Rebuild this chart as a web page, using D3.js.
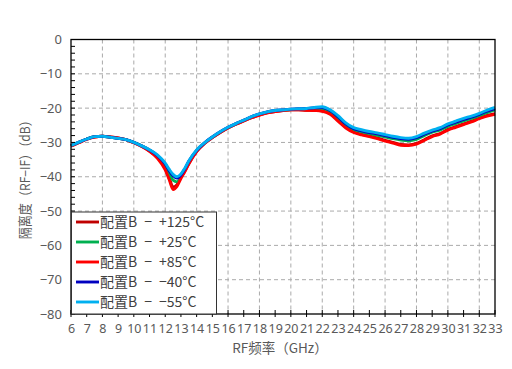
<!DOCTYPE html>
<html>
<head>
<meta charset="utf-8">
<script src="https://cdn.jsdelivr.net/npm/d3@7"></script>
<style>
  body { margin: 0; background: #fff; }
  svg text { font-family: "Noto Sans CJK SC", "Noto Sans", sans-serif; }
  svg .tick text { font-family: "Noto Sans", sans-serif; }
</style>
</head>
<body>
<div id="chart-area"></div>
<script>

// frequency points (GHz)
var freqs = [6, 6.5, 7, 7.5, 8, 8.5, 9, 9.5, 10, 10.5, 11, 11.5, 12, 12.25, 12.5, 12.75, 13, 13.25, 13.5, 14, 14.5, 15, 15.5, 16, 16.5, 17, 17.5, 18, 18.5, 19, 19.5, 20, 20.5, 21, 21.5, 22, 22.5, 23, 23.5, 24, 24.5, 25, 25.5, 26, 26.5, 27, 27.5, 28, 28.5, 29, 29.5, 30, 30.5, 31, 31.5, 32, 32.5, 33];

var iso125 = [-31.0, -30.0, -29.0, -28.4, -28.2, -28.4, -28.7, -29.2, -30.1, -31.1, -32.5, -34.4, -37.6, -40.3, -43.0, -42.3, -40.2, -38.3, -36.2, -32.6, -30.3, -28.6, -27.1, -25.8, -24.7, -23.7, -22.8, -22.0, -21.4, -21.0, -20.7, -20.5, -20.5, -20.6, -20.6, -20.8, -21.6, -23.5, -25.5, -26.9, -27.6, -28.1, -28.7, -29.4, -30.0, -30.6, -30.7, -30.3, -29.2, -28.1, -27.4, -26.2, -25.4, -24.6, -23.8, -22.9, -22.1, -21.6];
var iso25 = [-31.0, -30.0, -29.0, -28.3, -28.2, -28.5, -28.8, -29.2, -30.0, -31.0, -32.3, -34.0, -36.8, -38.9, -41.0, -41.5, -40.0, -38.0, -35.8, -32.4, -30.2, -28.5, -27.0, -25.7, -24.6, -23.6, -22.6, -21.8, -21.2, -20.8, -20.6, -20.4, -20.3, -20.3, -20.1, -20.1, -20.9, -22.8, -24.8, -26.2, -26.9, -27.4, -27.9, -28.4, -28.9, -29.3, -29.5, -29.1, -28.0, -27.0, -26.4, -25.3, -24.5, -23.7, -23.0, -22.2, -21.3, -20.5];
var iso85 = [-31.1, -30.1, -29.1, -28.4, -28.2, -28.4, -28.7, -29.2, -30.1, -31.2, -32.6, -34.6, -38.0, -40.8, -43.7, -42.8, -40.5, -38.5, -36.3, -32.7, -30.3, -28.6, -27.1, -25.8, -24.7, -23.7, -22.8, -22.1, -21.4, -21.0, -20.7, -20.5, -20.5, -20.6, -20.7, -20.9, -21.8, -23.8, -25.8, -27.1, -27.8, -28.3, -28.9, -29.6, -30.2, -30.8, -30.9, -30.5, -29.4, -28.3, -27.6, -26.4, -25.6, -24.8, -24.0, -23.1, -22.3, -21.8];
var isoM40 = [-30.9, -29.9, -29.0, -28.3, -28.2, -28.5, -28.8, -29.2, -30.0, -31.0, -32.2, -33.8, -36.3, -38.2, -39.7, -40.4, -39.5, -37.7, -35.5, -32.3, -30.1, -28.4, -26.9, -25.6, -24.5, -23.5, -22.5, -21.7, -21.1, -20.7, -20.5, -20.3, -20.2, -20.1, -19.9, -19.8, -20.7, -22.5, -24.6, -26.0, -26.6, -27.1, -27.5, -28.0, -28.5, -28.9, -29.1, -28.6, -27.6, -26.7, -26.0, -24.9, -24.1, -23.3, -22.6, -21.8, -20.9, -20.1];
var isoM55 = [-30.9, -29.9, -29.0, -28.3, -28.2, -28.5, -28.8, -29.2, -30.0, -31.0, -32.1, -33.6, -36.0, -37.8, -39.3, -40.0, -39.2, -37.5, -35.4, -32.2, -30.1, -28.4, -26.9, -25.6, -24.5, -23.5, -22.5, -21.7, -21.1, -20.7, -20.5, -20.3, -20.2, -20.1, -19.8, -19.6, -20.5, -22.2, -24.3, -25.7, -26.3, -26.8, -27.2, -27.7, -28.2, -28.6, -28.8, -28.3, -27.3, -26.4, -25.7, -24.6, -23.8, -23.0, -22.3, -21.5, -20.6, -19.8];

var seriesNames = ["配置B\u2002−\u2002+125°C", "配置B\u2002−\u2002+25°C", "配置B\u2002−\u2002+85°C", "配置B\u2002−\u2002−40°C", "配置B\u2002−\u2002−55°C"];
var seriesColors = ["#c00000", "#00b050", "#ff0000", "#0000c0", "#00b0f0"];
var seriesValues = [iso125, iso25, iso85, isoM40, isoM55];

var xTicks = d3.range(6, 34, 1);
var yTicks = [0, -10, -20, -30, -40, -50, -60, -70, -80];

var total_width = 512;
var total_height = 369;

var svg = d3.select('#chart-area').append('svg')
            .attr("width", total_width)
            .attr("height", total_height);

var margin = {top: 39.5, right: 17, bottom: 55, left: 71};
var width = total_width - margin.left - margin.right;
var height = total_height - margin.top - margin.bottom;

var chart = svg.append('g')
               .attr("transform", "translate(" + margin.left + "," + margin.top + ")");

var x = d3.scaleLinear().domain([6, 33]).range([0, width]);
var y = d3.scaleLinear().domain([-80, 0]).range([height, 0]);

// grid
chart.append('g').selectAll('line')
     .data(d3.range(8, 33, 2)).enter().append('line')
     .attr("x1", d => x(d)).attr("x2", d => x(d))
     .attr("y1", 0).attr("y2", height)
     .attr("stroke", "#aaa").attr("stroke-dasharray", "4,3");
chart.append('g').selectAll('line')
     .data([-10, -20, -30, -40, -50, -60, -70]).enter().append('line')
     .attr("x1", 0).attr("x2", width)
     .attr("y1", d => y(d)).attr("y2", d => y(d))
     .attr("stroke", "#aaa").attr("stroke-dasharray", "4,3");

// curves
var lineFunction = d3.line()
                     .x((d, i) => x(freqs[i]))
                     .y(d => y(d))
                     .curve(d3.curveMonotoneX);

seriesValues.forEach(function(vals, k){
    chart.append('path')
         .datum(vals)
         .attr("d", lineFunction)
         .attr("fill", "none")
         .attr("stroke", seriesColors[k])
         .attr("stroke-width", 2.9)
         .attr("stroke-linejoin", "round");
});

// frame
chart.append('rect')
     .attr("x", 0).attr("y", 0)
     .attr("width", width).attr("height", height)
     .attr("fill", "none").attr("stroke", "#000").attr("stroke-width", 1.3);

// y axis: minor ticks every 2 dB
var yAxis = d3.axisLeft(y)
              .tickValues(yTicks)
              .tickFormat(d => d === 0 ? "0" : "−" + Math.abs(d))
              .tickSize(0)
              .tickPadding(9);
var gy = chart.append('g').call(yAxis);
gy.select('.domain').remove();
gy.selectAll('text').attr("fill", "#595959").attr("font-size", "13px");
chart.append('g').selectAll('line')
     .data(d3.range(-80, 1, 2)).enter().append('line')
     .attr("x1", 0).attr("x2", 4)
     .attr("y1", d => y(d)).attr("y2", d => y(d))
     .attr("stroke", "#000");

// x axis
var xAxis = d3.axisBottom(x)
              .tickValues(xTicks)
              .tickFormat(d3.format("d"))
              .tickSize(0)
              .tickPadding(10);
var gx = chart.append('g')
              .attr("transform", "translate(0," + height + ")")
              .call(xAxis);
gx.select('.domain').remove();
gx.selectAll('text').attr("fill", "#595959").attr("font-size", "12.5px");
chart.append('g').selectAll('line')
     .data(xTicks).enter().append('line')
     .attr("x1", d => x(d)).attr("x2", d => x(d))
     .attr("y1", height - 4).attr("y2", height + 3)
     .attr("stroke", "#000");

// legend
var legend = chart.append('g');
legend.append('rect')
      .attr("x", 0.5).attr("y", 172.5)
      .attr("width", 145).attr("height", height - 172.5)
      .attr("fill", "#fff").attr("stroke", "#333").attr("stroke-width", 1);
seriesNames.forEach(function(name, k){
    var ly = 182.5 + k * 20;
    legend.append('line')
          .attr("x1", 5).attr("x2", 28)
          .attr("y1", ly).attr("y2", ly)
          .attr("stroke", seriesColors[k]).attr("stroke-width", 2.9);
    legend.append('text')
          .attr("x", 29).attr("y", ly + 5)
          .attr("font-size", "14px").attr("fill", "#404040")
          .text(name);
});

// axis titles
svg.append('text')
   .attr("text-anchor", "middle")
   .attr("transform", "translate(29.5," + (margin.top + height / 2) + ") rotate(-90)")
   .attr("font-size", "13.5px").attr("fill", "#595959")
   .attr("textLength", 125).attr("lengthAdjust", "spacingAndGlyphs")
   .text("隔离度（RF−IF）（dB）");
svg.append('text')
   .attr("text-anchor", "middle")
   .attr("x", margin.left + width / 2 - 3).attr("y", 353)
   .attr("font-size", "13.5px").attr("fill", "#595959")
   .text("RF频率（GHz）");

</script>
</body>
</html>
